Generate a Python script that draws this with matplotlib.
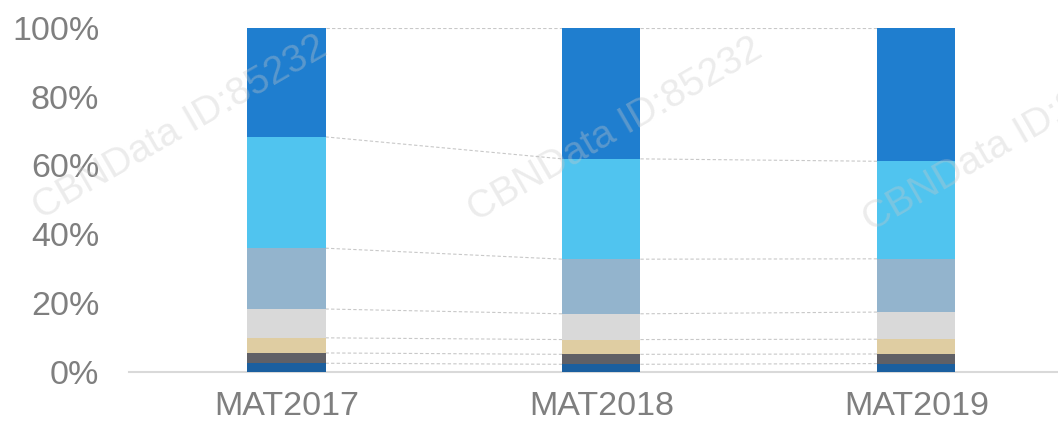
import matplotlib.pyplot as plt
import numpy as np

plt.rcParams['font.family'] = ['Liberation Sans', 'DejaVu Sans']

categories = ['MAT2017', 'MAT2018', 'MAT2019']
# segment shares (%) from bottom to top
seg1 = [2.4, 2.1, 2.3]
seg2 = [3.0, 2.9, 2.8]
seg3 = [4.4, 4.3, 4.3]
seg4 = [8.4, 7.5, 7.9]
seg5 = [17.7, 15.9, 15.5]
seg6 = [32.4, 29.2, 28.4]
seg7 = [31.7, 38.1, 38.8]
segments = [seg1, seg2, seg3, seg4, seg5, seg6, seg7]
colors = ['#1b5f9f', '#606066', '#dfcda2', '#d9d9d9', '#93b4cd', '#50c4ef', '#1f7ecf']

fig = plt.figure(figsize=(10.58, 4.23), dpi=100)
ax = fig.add_axes([129 / 1058, 51.5 / 423, 1 - 129 / 1058, 343.5 / 423])

x = np.arange(len(categories))
width = 0.248
bottom = np.zeros(len(categories))
tops = []
for vals, c in zip(segments, colors):
    vals = np.array(vals)
    ax.bar(x, vals, width, bottom=bottom, color=c, zorder=3)
    bottom = bottom + vals
    tops.append(bottom.copy())

# dashed connectors between bars
for t in tops:
    for i in range(len(categories) - 1):
        ax.plot([x[i] + width / 2, x[i + 1] - width / 2], [t[i], t[i + 1]],
                color='#c8c8c8', lw=0.8, ls=(0, (3, 2)), zorder=2)

ax.set_xlim(-0.5, 2.45)
ax.set_ylim(0, 100)
ax.set_xticks(x)
ax.set_xticklabels(categories)
ax.set_yticks(range(0, 101, 20))
ax.set_yticklabels([f'{v}%' for v in range(0, 101, 20)])
ax.tick_params(axis='both', length=0, labelsize=24.5, colors='#7f7f7f')
ax.tick_params(axis='y', pad=21.5)
ax.tick_params(axis='x', pad=14)
for s in ['top', 'right', 'left']:
    ax.spines[s].set_visible(False)
ax.spines['bottom'].set_color('#d9d9d9')
ax.spines['bottom'].set_linewidth(1.5)

# watermarks
for (wx, wy) in [(180, 128), (615, 130), (1010, 140)]:
    fig.text(wx / 1058, 1 - wy / 423, 'CBNData ID:85232', fontsize=28, color='#c8c8c8',
             alpha=0.35, rotation=30, ha='center', va='center', zorder=5)

fig.savefig('out.png', dpi=100)
